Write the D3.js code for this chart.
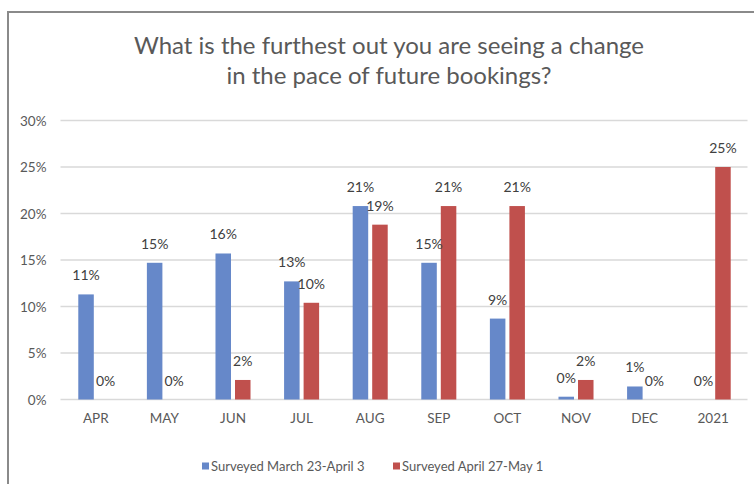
<!DOCTYPE html>
<html>
<head>
<meta charset="utf-8">
<script src="https://cdn.jsdelivr.net/npm/d3@7"></script>
<style>
  html, body { margin: 0; padding: 0; background: #fff; }
  svg { display: block; }
  text { font-family: Lato, "Open Sans", sans-serif; }
</style>
</head>
<body>
<svg id="chart" width="754" height="484"></svg>
<script>
const categories = ["APR", "MAY", "JUN", "JUL", "AUG", "SEP", "OCT", "NOV", "DEC", "2021"];
const seriesNames = ["Surveyed March 23-April 3", "Surveyed April 27-May 1"];
const marchValues = [11.3, 14.7, 15.7, 12.7, 20.8, 14.7, 8.7, 0.3, 1.4, 0];
const aprilValues = [0, 0, 2.1, 10.4, 18.8, 20.8, 20.8, 2.1, 0, 25.0];
const yTicks = [0, 5, 10, 15, 20, 25, 30];
const titleLines = ["What is the furthest out you are seeing a change", "in the pace of future bookings?"];
const colors = ["#6688c9", "#c0504d"];

const svg = d3.select("#chart");
const W = 754, H = 484;
const plot = { left: 61.5, right: 747.5, top: 120.5, bottom: 399.5 };

// frame
svg.append("line").attr("x1", 8).attr("x2", W).attr("y1", 12).attr("y2", 12)
  .attr("stroke", "#8a8a8a").attr("stroke-width", 2);
svg.append("line").attr("x1", 8).attr("x2", 8).attr("y1", 11).attr("y2", H)
  .attr("stroke", "#8a8a8a").attr("stroke-width", 2);

// title
svg.append("g").selectAll("text").data(titleLines).join("text")
  .attr("x", 389).attr("y", (d, i) => 54 + i * 30)
  .attr("text-anchor", "middle").attr("font-size", 24).attr("fill", "#595959")
  .text(d => d);

const x0 = d3.scaleBand().domain(categories).range([plot.left, plot.right]).padding(0);
const x1 = d3.scaleBand().domain(seriesNames).range([0, x0.bandwidth()])
  .paddingInner(0.205).paddingOuter(0.86);
const y = d3.scaleLinear().domain([0, 30]).range([plot.bottom, plot.top]);

// gridlines
svg.append("g").selectAll("line").data(yTicks).join("line")
  .attr("x1", plot.left - 1).attr("x2", plot.right)
  .attr("y1", d => y(d)).attr("y2", d => y(d))
  .attr("stroke", "#d9d9d9").attr("stroke-width", 1.3);

// y axis
const yAxis = d3.axisLeft(y).tickValues(yTicks).tickFormat(d => d + "%").tickSize(0).tickPadding(0);
const gy = svg.append("g").attr("transform", `translate(${plot.left - 15},0)`).call(yAxis);
gy.select(".domain").remove();
gy.selectAll("text").attr("font-size", 13.5).attr("fill", "#595959")
  .attr("font-family", "Lato, sans-serif").attr("dy", "0.35em");

// x axis
const xAxis = d3.axisBottom(x0).tickSize(0).tickPadding(0);
const gx = svg.append("g").attr("transform", `translate(0,${plot.bottom + 19})`).call(xAxis);
gx.select(".domain").remove();
gx.selectAll("text").attr("font-size", 13.5).attr("fill", "#595959")
  .attr("font-family", "Lato, sans-serif").attr("dy", "0.35em");

const rows = categories.map((c, i) => ({
  cat: c,
  vals: [
    { s: seriesNames[0], v: marchValues[i], c: colors[0] },
    { s: seriesNames[1], v: aprilValues[i], c: colors[1] }
  ]
}));

const groups = svg.append("g").selectAll("g").data(rows).join("g")
  .attr("transform", d => `translate(${x0(d.cat)},0)`);

groups.selectAll("rect").data(d => d.vals).join("rect")
  .attr("x", d => x1(d.s)).attr("width", x1.bandwidth())
  .attr("y", d => y(d.v)).attr("height", d => y(0) - y(d.v))
  .attr("fill", d => d.c);

groups.selectAll("text").data(d => d.vals).join("text")
  .attr("x", d => x1(d.s) + x1.bandwidth() / 2)
  .attr("y", d => y(d.v) - 14)
  .attr("text-anchor", "middle").attr("font-size", 14).attr("fill", "#404040")
  .text(d => Math.round(d.v) + "%");

// legend
const legendItems = [
  { name: seriesNames[0], color: colors[0], x: 202 },
  { name: seriesNames[1], color: colors[1], x: 393 }
];
const lg = svg.append("g").selectAll("g").data(legendItems).join("g")
  .attr("transform", d => `translate(${d.x},466)`);
lg.append("rect").attr("x", 0).attr("y", -3.5).attr("width", 7).attr("height", 7).attr("fill", d => d.color);
lg.append("text").attr("x", 9).attr("y", 0).attr("dy", "0.35em")
  .attr("font-size", 13).attr("fill", "#595959").text(d => d.name);
</script>
</body>
</html>
